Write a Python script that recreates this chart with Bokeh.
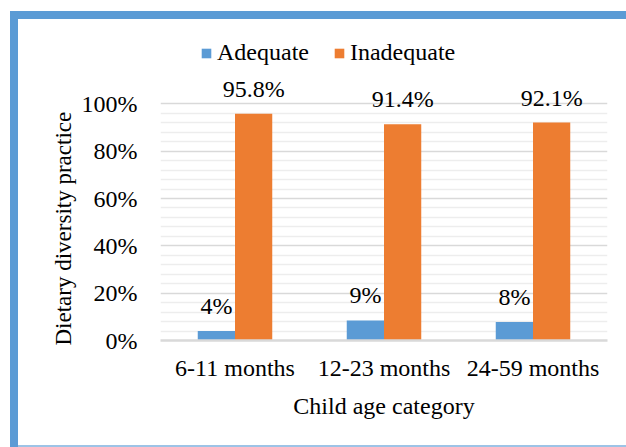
from bokeh.plotting import figure
from bokeh.models import (ColumnDataSource, FactorRange, Range1d, FixedTicker, PrintfTickFormatter,
                          LabelSet, Legend, LegendItem, Title)
from bokeh.core.properties import value
from bokeh.transform import dodge
from bokeh.embed import file_html
from bokeh.resources import INLINE

categories = ["6-11 months", "12-23 months", "24-59 months"]
adequate = [4.0, 8.5, 7.8]
inadequate = [95.8, 91.4, 92.1]
adequate_labels = ["4%", "9%", "8%"]
inadequate_labels = ["95.8%", "91.4%", "92.1%"]
y_ticks = [0, 20, 40, 60, 80, 100]
y_minor = [4, 8, 12, 16, 24, 28, 32, 36, 44, 48, 52, 56, 64, 68, 72, 76, 84, 88, 92, 96]

BLUE = "#5B9BD5"
ORANGE = "#ED7D31"
FONT = "Liberation Serif"
FS = "24px"

src = ColumnDataSource(dict(cat=categories, ade=adequate, inade=inadequate,
                            ade_lbl=adequate_labels, inade_lbl=inadequate_labels))

p = figure(width=626, height=447, output_backend="svg", toolbar_location=None,
           x_range=FactorRange(*categories, range_padding=0), y_range=Range1d(0, 131),
           min_border_left=160, min_border_right=19, min_border_top=30, min_border_bottom=107)
p.outline_line_color = None
p.background_fill_color = "white"
p.border_fill_color = None
p.styles = {"box-shadow": "inset 10px 11px 0 0 white, inset 18px 19px 0 0 #5B9BD5, "
                          "inset 0 -2px 0 0 #9DC3E6"}

r1 = p.vbar(x=dodge("cat", -0.125, range=p.x_range), top="ade", width=0.25, source=src,
            fill_color=BLUE, line_color=None)
r2 = p.vbar(x=dodge("cat", 0.125, range=p.x_range), top="inade", width=0.25, source=src,
            fill_color=ORANGE, line_color=None)

for col, yc, off in (("ade_lbl", "ade", -0.125), ("inade_lbl", "inade", 0.125)):
    ls = LabelSet(x=dodge("cat", off, range=p.x_range), y=yc, text=col, source=src,
                  y_offset=17, text_align="center", text_baseline="alphabetic",
                  text_font=value(FONT), text_font_size=value(FS), text_color="black")
    p.add_layout(ls)

# axes
p.xgrid.grid_line_color = None
p.ygrid.grid_line_color = "#d9d9d9"
p.ygrid.grid_line_width = 1.5
p.ygrid.minor_grid_line_color = "#ededed"
p.ygrid.minor_grid_line_width = 1.5
p.yaxis.ticker = FixedTicker(ticks=y_ticks, minor_ticks=y_minor)
p.yaxis.formatter = PrintfTickFormatter(format="%d%%")
p.yaxis.axis_line_color = None
p.yaxis.major_tick_line_color = None
p.yaxis.minor_tick_line_color = None
p.yaxis.major_label_standoff = 17
p.yaxis.major_label_text_font = FONT
p.yaxis.major_label_text_font_size = FS
p.yaxis.major_label_text_color = "black"

ytitle = Title(text="Dietary diversity practice", align="left", offset=-5, standoff=6,
               text_font=FONT, text_font_size="23px", text_font_style="normal",
               text_color="black")
p.add_layout(ytitle, "left")

p.xaxis.axis_line_color = "#d9d9d9"
p.xaxis.axis_line_width = 2.5
p.xaxis.major_tick_line_color = None
p.xaxis.minor_tick_line_color = None
p.xaxis.major_label_standoff = 8
p.xaxis.major_label_text_font = FONT
p.xaxis.major_label_text_font_size = FS
p.xaxis.major_label_text_color = "black"
p.xaxis.axis_label = "Child age category"
p.xaxis.axis_label_text_font = FONT
p.xaxis.axis_label_text_font_size = FS
p.xaxis.axis_label_text_font_style = "normal"
p.xaxis.axis_label_text_color = "black"
p.xaxis.axis_label_standoff = 9

legend = Legend(items=[LegendItem(label="Adequate", renderers=[r1]),
                       LegendItem(label="Inadequate", renderers=[r2])],
                orientation="horizontal", location=(40, 274),
                glyph_width=12, glyph_height=12, label_standoff=5, spacing=24,
                padding=0, margin=0, border_line_color=None, background_fill_alpha=0,
                label_text_font=FONT, label_text_font_size=FS, label_text_color="black")
p.add_layout(legend, "center")

open("out.html", "w").write(file_html(p, INLINE))
